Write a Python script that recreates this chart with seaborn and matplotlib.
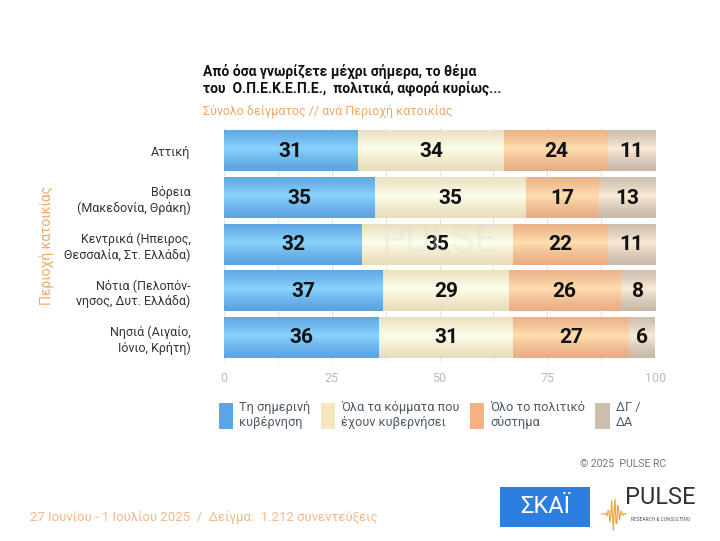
import matplotlib
matplotlib.use("Agg")
import matplotlib.pyplot as plt
import seaborn as sns
import numpy as np
import pandas as pd
from matplotlib.patches import Rectangle, Patch

regions = ["Αττική", "Βόρεια\n(Μακεδονία, Θράκη)", "Κεντρικά (Ηπειρος,\nΘεσσαλία, Στ. Ελλάδα)",
           "Νότια (Πελοπόν-\nνησος, Δυτ. Ελλάδα)", "Νησιά (Αιγαίο,\nΙόνιο, Κρήτη)"]
series_names = ["Τη σημερινή\nκυβέρνηση", "Όλα τα κόμματα που\nέχουν κυβερνήσει",
                "Όλο το πολιτικό\nσύστημα", "ΔΓ /\nΔΑ"]
gov = [31, 35, 32, 37, 36]
all_parties = [34, 35, 35, 29, 31]
system = [24, 17, 22, 26, 27]
dk = [11, 13, 11, 8, 6]
x_ticks = [0, 25, 50, 75, 100]
colors = ["#5BA6EA", "#F6E7BF", "#F5B183", "#CDBDAB"]

sns.set_theme(style="white")
plt.rcParams['font.family'] = ['Roboto', 'DejaVu Sans']

fig = plt.figure(figsize=(7.2, 5.41), dpi=100)
ax = fig.add_axes([0.311, 0.333, 0.599, 0.430])

values = [gov, all_parties, system, dk]
left = np.zeros(len(regions))
for vals, name, col in zip(values, series_names, colors):
    df = pd.DataFrame({"region": regions, "v": vals, "left": left})
    sns.barplot(data=df, y="region", x="v", orient="h", color=col, ax=ax, width=0.86,
                saturation=1, zorder=2)
    bars = ax.patches[-len(regions):]
    for b, v, l in zip(bars, vals, left):
        b.set_x(l)
        b.set_edgecolor("none")
        x0, y0 = b.get_x(), b.get_y()
        w, h = b.get_width(), b.get_height()
        grad = np.linspace(0, 1, 64)
        shade = 1 - 0.55 * np.abs(grad - 0.45) * 2
        rgb = np.array(matplotlib.colors.to_rgb(col))
        light = np.clip(rgb + 0.18, 0, 1)
        dark = rgb * 0.93
        img = dark[None, :] + (light - dark)[None, :] * shade[:, None] ** 2
        img = np.repeat(img[:, None, :], 2, axis=1)
        ax.imshow(img, extent=[x0, x0 + w, y0 + h, y0], aspect="auto", zorder=2.5,
                  interpolation="bilinear")
        ax.text(x0 + w / 2, y0 + h / 2, f"{v}", ha="center", va="center",
                fontsize=15, fontweight="bold", color="#111111", zorder=4)
    left = left + np.array(vals)

ax.set_xlim(0, 100)
ax.set_ylim(4.5, -0.5)
ax.set_xticks(x_ticks)
ax.set_xticklabels([str(t) for t in x_ticks], color="#BBBBBB", fontsize=9)
ax.set_xticks(np.arange(0, 101, 12.5), minor=True)
ax.grid(True, axis="x", which="both", color="#E3E3E3", lw=0.8, zorder=0)
ax.set_axisbelow(True)
ax.tick_params(axis="y", length=0, labelsize=9, labelcolor="#333333", pad=24)
ax.tick_params(axis="x", length=0, pad=8)
for s in ax.spines.values():
    s.set_visible(False)
for lab in ax.get_yticklabels():
    lab.set_horizontalalignment("right")
    lab.set_multialignment("right")
ax.set_xlabel("")
ax.set_ylabel("")

# watermark
ax.text(50, 1.93, "PULSE", ha="center", va="center", fontsize=28, color="#DDDDDD",
        alpha=0.3, zorder=5)

# titles
fig.text(0.282, 0.852, "Από όσα γνωρίζετε μέχρι σήμερα, το θέμα\nτου  Ο.Π.Ε.Κ.Ε.Π.Ε.,  πολιτικά, αφορά κυρίως...",
         fontsize=10, fontweight="bold", color="#111111", ha="left", va="center", linespacing=1.2)
fig.text(0.282, 0.794, "Σύνολο δείγματος // ανά Περιοχή κατοικίας", fontsize=9,
         color="#F0A868", ha="left", va="center")
fig.text(0.065, 0.547, "Περιοχή κατοικίας", rotation=90, fontsize=10, color="#F0A868",
         ha="center", va="center")

# legend
handles = [Patch(facecolor=c, edgecolor="none") for c in colors]
leg = fig.legend(handles, series_names, loc="center left", bbox_to_anchor=(0.288, 0.233),
                 ncol=4, frameon=False, fontsize=9.2, handlelength=1.1, handleheight=2.8,
                 handletextpad=0.5, columnspacing=0.8, labelcolor="#4F5B66")

# footer
fig.text(0.805, 0.142, "© 2025  PULSE RC", fontsize=7.5, color="#777777", ha="left", va="center")
fig.text(0.042, 0.044, "27 Ιουνίου - 1 Ιουλίου 2025  /  Δείγμα:  1.212 συνεντεύξεις",
         fontsize=9.5, color="#F3B98A", ha="left", va="center")
fig.patches.append(Rectangle((0.694, 0.026), 0.126, 0.074, transform=fig.transFigure,
                             facecolor="#2A7FE0", edgecolor="none"))
fig.text(0.757, 0.063, "ΣΚΑΪ", fontsize=17, color="white", ha="center", va="center")
fig.text(0.917, 0.080, "PULSE", fontsize=17, color="#333333", ha="center", va="center")
fig.text(0.917, 0.040, "RESEARCH & CONSULTING", fontsize=3.5, color="#555555", ha="center", va="center")
xs = np.linspace(0.835, 0.87, 30)
ys = 0.05 + 0.004 * np.sin(np.arange(30) * 1.7) * np.exp(-((np.arange(30) - 15) / 6.0) ** 2) * 8
fig.lines.append(plt.Line2D(xs, ys, transform=fig.transFigure, color="#F0A040", lw=0.8))

fig.savefig("out.png", dpi=100)
